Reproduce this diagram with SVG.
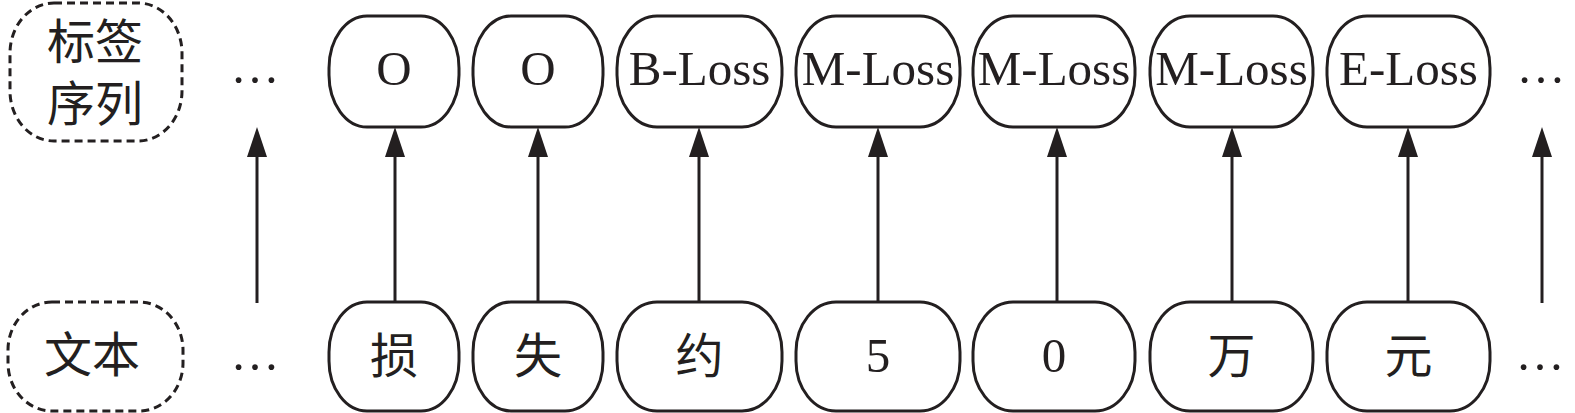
<svg xmlns="http://www.w3.org/2000/svg" width="1575" height="413" viewBox="0 0 1575 413">
  <defs>
    <style>
      .box{fill:#fff;stroke:#231f20;stroke-width:3}
      .dash{fill:#fff;stroke:#231f20;stroke-width:3;stroke-dasharray:8 5}
      .lat{font-family:"Liberation Serif","Times New Roman",serif;font-size:49px;fill:#231f20;text-anchor:middle}
      .cjk{font-family:"Liberation Serif","Noto Sans CJK SC",serif;font-size:48px;fill:#231f20;text-anchor:middle}
      .conn line{stroke:#231f20;stroke-width:3;marker-end:url(#ah)}
    </style>
    <marker id="ah" markerUnits="userSpaceOnUse" markerWidth="30" markerHeight="20" refX="7" refY="10" orient="auto">
      <path d="M0,0 L30,10 L0,20 z" fill="#231f20"/>
    </marker>
  </defs>
  <rect width="1575" height="413" fill="#fff"/>

  <g id="legend-label">
    <rect class="dash" x="10" y="3" width="172" height="138" rx="44" ry="50"/>
    <text class="cjk" x="95" y="59">标签</text>
    <text class="cjk" x="95" y="121">序列</text>
  </g>
  <g id="legend-text">
    <rect class="dash" x="8" y="302" width="175" height="109" rx="44" ry="48"/>
    <text class="cjk" x="92" y="372">文本</text>
  </g>

  <g id="dots-top-left"><text class="lat" x="255" y="83">…</text></g>
  <g id="dots-bottom-left"><text class="lat" x="255" y="370">…</text></g>
  <g id="dots-top-right"><text class="lat" x="1541" y="83">…</text></g>
  <g id="dots-bottom-right"><text class="lat" x="1540" y="370">…</text></g>

  <g id="tag1"><rect class="box" x="329" y="16" width="130" height="111" rx="38" ry="52"/><text class="lat" x="394" y="85">O</text></g>
  <g id="tag2"><rect class="box" x="473" y="16" width="130" height="111" rx="38" ry="52"/><text class="lat" x="538" y="85">O</text></g>
  <g id="tag3"><rect class="box" x="617" y="16" width="165" height="111" rx="40" ry="52"/><text class="lat" x="699.5" y="85">B-Loss</text></g>
  <g id="tag4"><rect class="box" x="796" y="16" width="164" height="111" rx="40" ry="52"/><text class="lat" x="878" y="85">M-Loss</text></g>
  <g id="tag5"><rect class="box" x="973" y="16" width="162" height="111" rx="40" ry="52"/><text class="lat" x="1054" y="85">M-Loss</text></g>
  <g id="tag6"><rect class="box" x="1150" y="16" width="163" height="111" rx="40" ry="52"/><text class="lat" x="1231.5" y="85">M-Loss</text></g>
  <g id="tag7"><rect class="box" x="1327" y="16" width="163" height="111" rx="40" ry="52"/><text class="lat" x="1408.5" y="85">E-Loss</text></g>

  <g id="tok1"><rect class="box" x="329" y="302" width="130" height="109" rx="38" ry="50"/><text class="cjk" x="394" y="373">损</text></g>
  <g id="tok2"><rect class="box" x="473" y="302" width="130" height="109" rx="38" ry="50"/><text class="cjk" x="538" y="373">失</text></g>
  <g id="tok3"><rect class="box" x="617" y="302" width="165" height="109" rx="40" ry="50"/><text class="cjk" x="699.5" y="373">约</text></g>
  <g id="tok4"><rect class="box" x="796" y="302" width="164" height="109" rx="40" ry="50"/><text class="lat" x="878" y="372">5</text></g>
  <g id="tok5"><rect class="box" x="973" y="302" width="162" height="109" rx="40" ry="50"/><text class="lat" x="1054" y="372">0</text></g>
  <g id="tok6"><rect class="box" x="1150" y="302" width="163" height="109" rx="40" ry="50"/><text class="cjk" x="1231.5" y="373">万</text></g>
  <g id="tok7"><rect class="box" x="1327" y="302" width="163" height="109" rx="40" ry="50"/><text class="cjk" x="1408.5" y="373">元</text></g>

  <g id="connectors" class="conn">
    <line x1="257" y1="303" x2="257" y2="150"/>
    <line x1="395" y1="302" x2="395" y2="150"/>
    <line x1="538" y1="302" x2="538" y2="150"/>
    <line x1="699" y1="302" x2="699" y2="150"/>
    <line x1="878" y1="302" x2="878" y2="150"/>
    <line x1="1057" y1="302" x2="1057" y2="150"/>
    <line x1="1232" y1="302" x2="1232" y2="150"/>
    <line x1="1408" y1="302" x2="1408" y2="150"/>
    <line x1="1542" y1="303" x2="1542" y2="150"/>
  </g>
</svg>
